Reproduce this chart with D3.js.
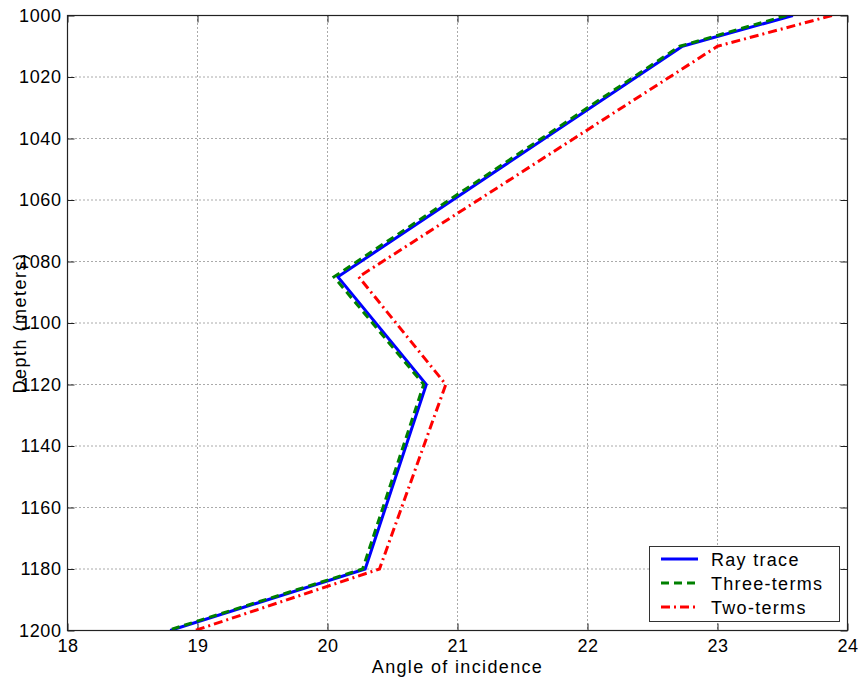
<!DOCTYPE html>
<html>
<head>
<meta charset="utf-8">
<script src="https://cdn.jsdelivr.net/npm/d3@7"></script>
<style>
  html, body { margin: 0; padding: 0; background: #fff; }
  svg { display: block; font-family: "Liberation Sans", Arial, sans-serif; }
</style>
</head>
<body>
<svg id="chart" width="860" height="682"></svg>
<script>
// Depth levels (m) at which each angle was evaluated
const depths = [1000, 1010, 1085, 1120, 1180, 1200];
// Angle of incidence (degrees) for each method
const rayTrace   = [23.58, 22.73, 20.08, 20.76, 20.29, 18.79];
const threeTerms = [23.53, 22.71, 20.05, 20.74, 20.27, 18.77];
const twoTerms   = [23.88, 23.00, 20.24, 20.91, 20.40, 18.98];

const xTicks = [18, 19, 20, 21, 22, 23, 24];
const yTicks = [1000, 1020, 1040, 1060, 1080, 1100, 1120, 1140, 1160, 1180, 1200];
const seriesNames = ["Ray trace", "Three-terms", "Two-terms"];

const svg = d3.select("#chart");
const m = { left: 67.5, right: 847.5, top: 15.5, bottom: 630.5 };

const x = d3.scaleLinear().domain([18, 24]).range([m.left, m.right]);
const y = d3.scaleLinear().domain([1000, 1200]).range([m.top, m.bottom]);

// Dotted grid
const grid = svg.append("g");
xTicks.slice(1, -1).forEach(t => {
  grid.append("line").attr("x1", x(t)).attr("x2", x(t)).attr("y1", m.top).attr("y2", m.bottom)
    .attr("stroke", "#555").attr("stroke-width", 1).attr("stroke-dasharray", "1,3");
});
yTicks.slice(1, -1).forEach(t => {
  grid.append("line").attr("x1", m.left).attr("x2", m.right).attr("y1", y(t)).attr("y2", y(t))
    .attr("stroke", "#555").attr("stroke-width", 1).attr("stroke-dasharray", "1,3");
});

// Axes with inward ticks, mirrored on the opposite sides (box style)
const fontSize = "18px";
const bottomAxis = d3.axisBottom(x).tickValues(xTicks).tickSize(-7).tickPadding(9).tickFormat(d3.format("d"));
const leftAxis = d3.axisLeft(y).tickValues(yTicks).tickSize(-7).tickPadding(6).tickFormat(d3.format("d"));
const topAxis = d3.axisTop(x).tickValues(xTicks).tickSize(-7).tickFormat("");
const rightAxis = d3.axisRight(y).tickValues(yTicks).tickSize(-7).tickFormat("");

function style(g) {
  g.select(".domain").remove();
  g.selectAll(".tick line").attr("stroke", "#222");
  g.selectAll("text").attr("fill", "#000").style("font-size", fontSize)
    .style("letter-spacing", "0.6px")
    .style("font-family", "'Liberation Sans', Arial, sans-serif");
}
svg.append("g").attr("transform", `translate(0,${m.bottom})`).call(bottomAxis).call(style);
svg.append("g").attr("transform", `translate(${m.left},0)`).call(leftAxis).call(style);
svg.append("g").attr("transform", `translate(0,${m.top})`).call(topAxis).call(style);
svg.append("g").attr("transform", `translate(${m.right},0)`).call(rightAxis).call(style);

// Series lines
const line = vals => d3.line().x((d, i) => x(vals[i])).y(d => y(d))(depths);
svg.append("clipPath").attr("id", "plotclip").append("rect")
  .attr("x", m.left).attr("y", m.top).attr("width", m.right - m.left).attr("height", m.bottom - m.top);
const plot = svg.append("g").attr("clip-path", "url(#plotclip)");

const styles = [
  { vals: rayTrace,   color: "#0000ff", dash: null },
  { vals: threeTerms, color: "#008000", dash: "8,5" },
  { vals: twoTerms,   color: "#ff0000", dash: "9,4,2,4" }
];
styles.forEach(s => {
  plot.append("path").attr("d", line(s.vals)).attr("fill", "none")
    .attr("stroke", s.color).attr("stroke-width", 3)
    .attr("stroke-linejoin", "miter")
    .attr("stroke-dasharray", s.dash);
});

// Box frame
svg.append("rect").attr("x", m.left).attr("y", m.top)
  .attr("width", m.right - m.left).attr("height", m.bottom - m.top)
  .attr("fill", "none").attr("stroke", "#222").attr("stroke-width", 1.2);

// Axis titles
svg.append("text").attr("x", (m.left + m.right) / 2).attr("y", 673)
  .attr("text-anchor", "middle").style("font-size", "18px").style("letter-spacing", "1.35px")
  .text("Angle of incidence");
svg.append("text").attr("transform", `translate(26,${(m.top + m.bottom) / 2}) rotate(-90)`)
  .attr("text-anchor", "middle").style("font-size", "18px").style("letter-spacing", "1.5px")
  .text("Depth (meters)");

// Legend
const lg = svg.append("g");
lg.append("rect").attr("x", 649.5).attr("y", 546.5).attr("width", 190).attr("height", 75)
  .attr("fill", "#fff").attr("stroke", "#333").attr("stroke-width", 1);
styles.forEach((s, i) => {
  const yy = 559 + i * 24;
  lg.append("line").attr("x1", 661).attr("x2", 698).attr("y1", yy).attr("y2", yy)
    .attr("stroke", s.color).attr("stroke-width", 3).attr("stroke-dasharray", s.dash);
  lg.append("text").attr("x", 711).attr("y", yy + 6.5).style("font-size", "18px")
    .style("letter-spacing", "1.3px").text(seriesNames[i]);
});
</script>
</body>
</html>
